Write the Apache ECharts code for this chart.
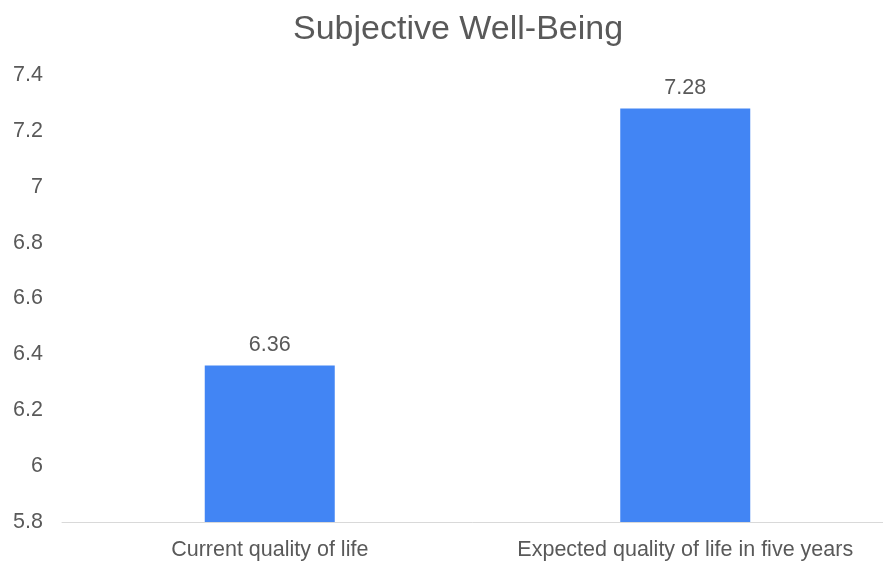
<!DOCTYPE html>
<html>
<head>
<meta charset="utf-8">
<script src="https://cdn.jsdelivr.net/npm/echarts@6/dist/echarts.min.js"></script>
<style>
html, body { margin: 0; padding: 0; background: #fff; }
#main { width: 883px; height: 561px; }
</style>
</head>
<body>
<div id="main"></div>
<script>
var categories = ['Current quality of life', 'Expected quality of life in five years'];
var scores = [6.36, 7.28];
var yTicks = { min: 5.8, max: 7.4, step: 0.2 };

var myChart = echarts.init(document.getElementById('main'));
var textColor = '#595959';
var font = 'Liberation Sans, Arial, sans-serif';

var option = {
    animation: false,
    title: {
        text: 'Subjective Well-Being',
        left: 288,
        top: 8,
        textStyle: { fontSize: 34, fontWeight: 'normal', color: textColor, fontFamily: font }
    },
    grid: { left: 62, width: 831, top: 75, bottom: 39, outerBoundsMode: 'none', containLabel: false },
    xAxis: {
        type: 'category',
        data: categories,
        axisLine: { lineStyle: { color: '#d9d9d9', width: 1 } },
        axisTick: { show: false },
        axisLabel: { color: textColor, fontSize: 21.5, fontFamily: font, margin: 17, interval: 0 }
    },
    yAxis: {
        type: 'value',
        min: yTicks.min,
        max: yTicks.max,
        interval: yTicks.step,
        axisLine: { show: false },
        axisTick: { show: false },
        splitLine: { show: false },
        axisLabel: {
            color: textColor, fontSize: 21.5, fontFamily: font, margin: 19,
            formatter: function (v) { return String(Math.round(v * 10) / 10); }
        }
    },
    series: [{
        type: 'bar',
        data: scores,
        barWidth: 130,
        itemStyle: { color: '#4285F4' },
        label: {
            show: true,
            position: 'top',
            distance: 9,
            color: textColor,
            fontSize: 21.5,
            fontFamily: font
        }
    }]
};
myChart.setOption(option);
</script>
</body>
</html>
